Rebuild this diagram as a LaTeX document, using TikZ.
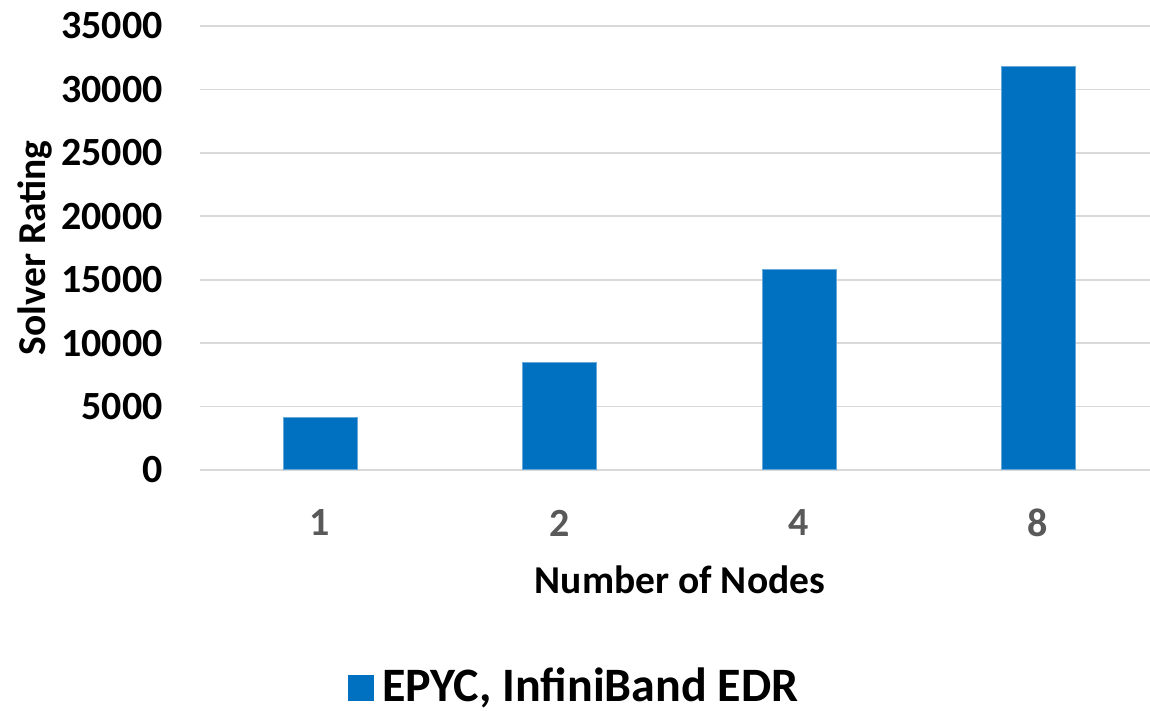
\documentclass[tikz,border=0pt]{standalone}
\usepackage{fontspec}
\setmainfont{Carlito}
\begin{document}
\begin{tikzpicture}[x=1pt,y=-1pt,
  grid/.style={draw=gridgray,line width=1.6pt},
  bar/.style={fill=barblue,draw=barblue!60!white,line width=0.6pt},
  ytick/.style={anchor=east,inner sep=0pt,font=\fontsize{40}{44}\selectfont\bfseries,text=black},
  xtick/.style={anchor=center,inner sep=0pt,font=\fontsize{40}{44}\selectfont\bfseries,text=tickgray},
  axtitle/.style={anchor=center,inner sep=0pt,font=\fontsize{39.5}{44}\selectfont\bfseries,text=black},
  legtext/.style={anchor=base west,inner sep=0pt,text depth=0pt,font=\fontsize{48}{52}\selectfont\bfseries,text=black}]
\definecolor{barblue}{HTML}{0070C0}
\definecolor{gridgray}{HTML}{D9D9D9}
\definecolor{tickgray}{HTML}{595959}
\useasboundingbox (0,0) rectangle (1150,711);
% gridlines and y labels
\foreach \v/\yy in {0/470,5000/406.6,10000/343.1,15000/279.7,20000/216.3,25000/152.9,30000/89.4,35000/26}{
  \draw[grid] (200,\yy) -- (1150,\yy);
  \node[ytick] (y\v) at (163,\yy) {\v};
}
% bars
\node[bar,minimum width=74pt,minimum height=52pt,inner sep=0pt,anchor=south] (b1) at (320,470) {};
\node[bar,minimum width=74pt,minimum height=107pt,inner sep=0pt,anchor=south] (b2) at (559.5,470) {};
\node[bar,minimum width=74pt,minimum height=200pt,inner sep=0pt,anchor=south] (b4) at (799,470) {};
\node[bar,minimum width=74pt,minimum height=403.5pt,inner sep=0pt,anchor=south] (b8) at (1038,470) {};
% x labels
\node[xtick] (x1) at (320,523) {1};
\node[xtick] (x2) at (559.5,523) {2};
\node[xtick] (x4) at (799,523) {4};
\node[xtick] (x8) at (1038,523) {8};
% axis titles
\node[axtitle] (xt) at (680,580) {Number of Nodes};
\node[axtitle,rotate=90] (yt) at (35,248) {Solver Rating};
% legend
\node[fill=barblue,minimum width=26pt,minimum height=26pt,inner sep=0pt] (lk) at (361,688) {};
\node[legtext] (lt) at (382,701) {EPYC, InfiniBand EDR};
\end{tikzpicture}
\end{document}
